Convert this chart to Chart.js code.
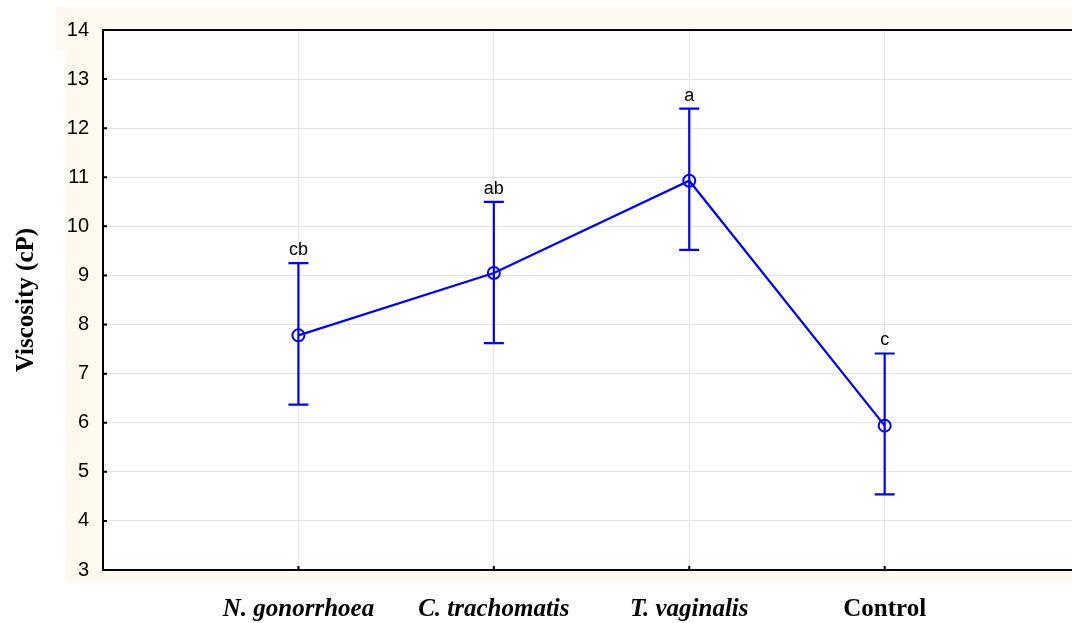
<!DOCTYPE html>
<html>
<head>
<meta charset="utf-8">
<script src="https://cdn.jsdelivr.net/npm/chart.js@4"></script>
<style>
  html, body { margin: 0; padding: 0; background: #fff; overflow: hidden; }
  #wrap { width: 1072px; height: 623px; overflow: hidden; }
</style>
</head>
<body>
<div id="wrap"><canvas id="chart" width="1092" height="623"></canvas></div>
<script>
// data
const categories = ['N. gonorrhoea', 'C. trachomatis', 'T. vaginalis', 'Control'];
const means = [7.78, 9.05, 10.93, 5.94];
const upper = [9.25, 10.5, 12.4, 7.41];
const lower = [6.37, 7.62, 9.52, 4.54];
const groupLetters = ['cb', 'ab', 'a', 'c'];
const yTicks = [3, 4, 5, 6, 7, 8, 9, 10, 11, 12, 13, 14];

const BLUE = '#0000ff';

// cream frame behind the plot
const backdrop = {
    id: 'backdrop',
    beforeDraw(chart) {
        const { ctx, chartArea } = chart;
        ctx.save();
        ctx.fillStyle = '#fdf9ef';
        ctx.fillRect(chartArea.left - 47, chartArea.top - 23, chart.width, 43);
        ctx.fillRect(chartArea.left - 37, chartArea.top - 23, chart.width, chartArea.bottom - chartArea.top + 35);
        ctx.fillStyle = '#ffffff';
        ctx.fillRect(chartArea.left, chartArea.top, chartArea.right - chartArea.left, chartArea.bottom - chartArea.top);
        ctx.restore();
    }
};

// frame, inside ticks, whiskers + letters
const errorBars = {
    id: 'errorBars',
    afterDatasetsDraw(chart) {
        const { ctx, chartArea } = chart;
        const xs = chart.scales.x, ys = chart.scales.y;
        ctx.save();
        ctx.strokeStyle = '#000';
        ctx.lineWidth = 2;
        ctx.strokeRect(chartArea.left, chartArea.top, chartArea.right - chartArea.left, chartArea.bottom - chartArea.top);
        ctx.beginPath();
        yTicks.forEach(v => {
            const y = ys.getPixelForValue(v);
            ctx.moveTo(chartArea.left, y); ctx.lineTo(chartArea.left + 4, y);
        });
        categories.forEach((c, i) => {
            const x = xs.getPixelForValue(i + 1);
            ctx.moveTo(x, chartArea.bottom); ctx.lineTo(x, chartArea.bottom - 4);
        });
        ctx.stroke();

        ctx.strokeStyle = BLUE;
        ctx.lineWidth = 2.2;
        categories.forEach((c, i) => {
            const x = xs.getPixelForValue(i + 1);
            const yt = ys.getPixelForValue(upper[i]);
            const yb = ys.getPixelForValue(lower[i]);
            ctx.beginPath();
            ctx.moveTo(x, yt); ctx.lineTo(x, yb);
            ctx.moveTo(x - 10, yt); ctx.lineTo(x + 10, yt);
            ctx.moveTo(x - 10, yb); ctx.lineTo(x + 10, yb);
            ctx.stroke();
            ctx.fillStyle = '#000';
            ctx.font = '18px "Liberation Sans", Arial, sans-serif';
            ctx.textAlign = 'center';
            ctx.textBaseline = 'bottom';
            ctx.fillText(groupLetters[i], x, yt - 4);
        });
        ctx.restore();
    }
};

new Chart(document.getElementById('chart'), {
    type: 'line',
    data: {
        datasets: [{
            data: means.map((m, i) => ({ x: i + 1, y: m })),
            borderColor: BLUE,
            borderWidth: 2.2,
            pointRadius: 6,
            pointBorderWidth: 2,
            pointBorderColor: BLUE,
            pointBackgroundColor: 'rgba(0,0,0,0)',
            fill: false,
            tension: 0
        }]
    },
    options: {
        responsive: false,
        animation: false,
        layout: { padding: { top: 30, right: 0, bottom: 0, left: 0 } },
        scales: {
            x: {
                type: 'linear',
                min: 0,
                max: 5.02,
                afterBuildTicks: (s) => { s.ticks = categories.map((c, i) => ({ value: i + 1 })); },
                afterFit: (s) => { s.height = 53; },
                grid: { color: '#e3e3e3', lineWidth: 1, drawTicks: false },
                border: { color: '#000', width: 2 },
                ticks: {
                    color: '#000',
                    padding: 25,
                    maxRotation: 0,
                    autoSkip: false,
                    callback: (v) => categories[v - 1],
                    font: (ctx) => ({
                        family: '"Liberation Serif", "Times New Roman", serif',
                        size: 25,
                        weight: 'bold',
                        style: ctx.index === 3 ? 'normal' : 'italic'
                    })
                }
            },
            y: {
                min: 3,
                max: 14,
                afterBuildTicks: (s) => { s.ticks = yTicks.map(v => ({ value: v })); },
                afterFit: (s) => { s.width = 103; },
                grid: { color: '#e3e3e3', lineWidth: 1, drawTicks: false },
                border: { color: '#000', width: 2 },
                ticks: {
                    color: '#000',
                    padding: 14,
                    font: { family: '"Liberation Sans", Arial, sans-serif', size: 20 }
                },
                title: {
                    display: true,
                    text: 'Viscosity (cP)',
                    color: '#000',
                    padding: { top: 12, bottom: 0 },
                    font: { family: '"Liberation Serif", "Times New Roman", serif', size: 25, weight: 'bold' }
                }
            }
        },
        plugins: {
            legend: { display: false },
            tooltip: { enabled: false }
        }
    },
    plugins: [backdrop, errorBars]
});
</script>
</body>
</html>
